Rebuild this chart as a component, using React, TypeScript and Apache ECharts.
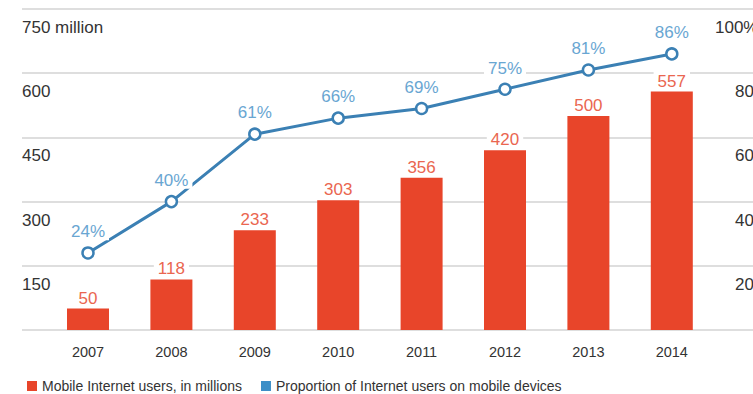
import React, { useEffect, useRef } from "react";
import * as echarts from "echarts";

const years = ["2007", "2008", "2009", "2010", "2011", "2012", "2013", "2014"];
const mobileUsers = [50, 118, 233, 303, 356, 420, 500, 557];
const proportion = [24, 40, 61, 66, 69, 75, 81, 86];
const leftTicks = { min: 0, max: 750, interval: 150 };
const rightTicks = { min: 0, max: 100, interval: 20 };
const seriesNames = ["Mobile Internet users, in millions", "Proportion of Internet users on mobile devices"];

const FONT = "'Liberation Sans', Arial, Helvetica, sans-serif";
const BAR = "#e8452a";
const BAR_LABEL = "#ea6650";
const LINE = "#3b80b4";
const LINE_LABEL = "#69a6d2";
const LEGEND_BLUE = "#3d8fc7";
const GRID = "#d3d3d3";

export default function App() {
  const ref = useRef<HTMLDivElement>(null);
  useEffect(() => {
    if (!ref.current) return;
    const chart = echarts.init(ref.current, undefined, { renderer: "svg" });
    chart.setOption({
      animation: false,
      backgroundColor: "#ffffff",
      textStyle: { fontFamily: FONT },
      grid: [
        { left: 22, right: -20, top: 9, bottom: 64, outerBoundsMode: "none", containLabel: false },
        { left: 46.3, right: 39.5, top: 9, bottom: 64, outerBoundsMode: "none", containLabel: false },
      ],
      legend: {
        left: 22,
        bottom: -4,
        itemWidth: 10,
        itemHeight: 10,
        itemGap: 19,
        textStyle: { fontSize: 14, color: "#333", fontFamily: FONT },
        data: [
          { name: seriesNames[0], icon: "rect", itemStyle: { color: BAR } },
          { name: seriesNames[1], icon: "rect", itemStyle: { color: LEGEND_BLUE, borderWidth: 0 } },
        ],
      },
      xAxis: [
        { type: "value", gridIndex: 0, show: false, min: 0, max: 1 },
        {
          type: "category",
          gridIndex: 1,
          data: years,
          axisLine: { show: false },
          axisTick: { show: false },
          axisLabel: { fontSize: 14.5, color: "#333", margin: 14, fontFamily: FONT },
        },
      ],
      yAxis: [
        {
          type: "value",
          gridIndex: 0,
          ...leftTicks,
          axisLabel: { show: false },
          axisLine: { show: false },
          axisTick: { show: false },
          splitLine: { show: true, lineStyle: { color: GRID, width: 1.5 } },
        },
        {
          type: "value",
          gridIndex: 1,
          position: "left",
          ...leftTicks,
          splitLine: { show: false },
          axisLine: { show: false },
          axisTick: { show: false },
          axisLabel: {
            showMaxLabel: true,
            showMinLabel: true,
            align: "left",
            verticalAlign: "top",
            padding: [10, 0, 0, 0],
            margin: 24.3,
            fontSize: 17,
            color: "#333",
            fontFamily: FONT,
            formatter: (v: number) => (v === 0 ? "" : v === leftTicks.max ? `${v} million` : `${v}`),
          },
        },
        {
          type: "value",
          gridIndex: 1,
          position: "right",
          ...rightTicks,
          splitLine: { show: false },
          axisLine: { show: false },
          axisTick: { show: false },
          axisLabel: {
            showMaxLabel: true,
            align: "left",
            verticalAlign: "top",
            padding: [10, 0, 0, 0],
            margin: 1.5,
            fontSize: 17,
            color: "#333",
            fontFamily: FONT,
            formatter: (v: number) => (v === 0 ? "" : v === rightTicks.max ? `${v}%` : `{s|${v}%}`),
            rich: { s: { fontSize: 17, color: "#333", padding: [0, 0, 0, 20], fontFamily: FONT } },
          },
        },
      ],
      series: [
        {
          name: seriesNames[0],
          type: "bar",
          xAxisIndex: 1,
          yAxisIndex: 1,
          data: mobileUsers,
          barWidth: 42,
          itemStyle: { color: BAR },
          z: 3,
          label: {
            show: true,
            position: "top",
            distance: 2,
            fontSize: 17,
            color: BAR_LABEL,
            backgroundColor: "#fff",
            padding: [1, 4, 0, 4],
            fontFamily: FONT,
          },
        },
        {
          name: seriesNames[1],
          type: "line",
          xAxisIndex: 1,
          yAxisIndex: 2,
          data: proportion,
          symbol: "circle",
          symbolSize: 11,
          lineStyle: { color: LINE, width: 3 },
          itemStyle: { color: "#fff", borderColor: LINE, borderWidth: 2.5 },
          z: 4,
          label: {
            show: true,
            position: "top",
            distance: 6,
            fontSize: 17,
            color: LINE_LABEL,
            backgroundColor: "#fff",
            padding: [1, 4, 0, 4],
            fontFamily: FONT,
            formatter: (p: any) => `${p.value}%`,
          },
        },
      ],
    });
    return () => chart.dispose();
  }, []);
  return <div ref={ref} style={{ position: "fixed", left: 0, top: 0, width: 753, height: 394 }} />;
}
